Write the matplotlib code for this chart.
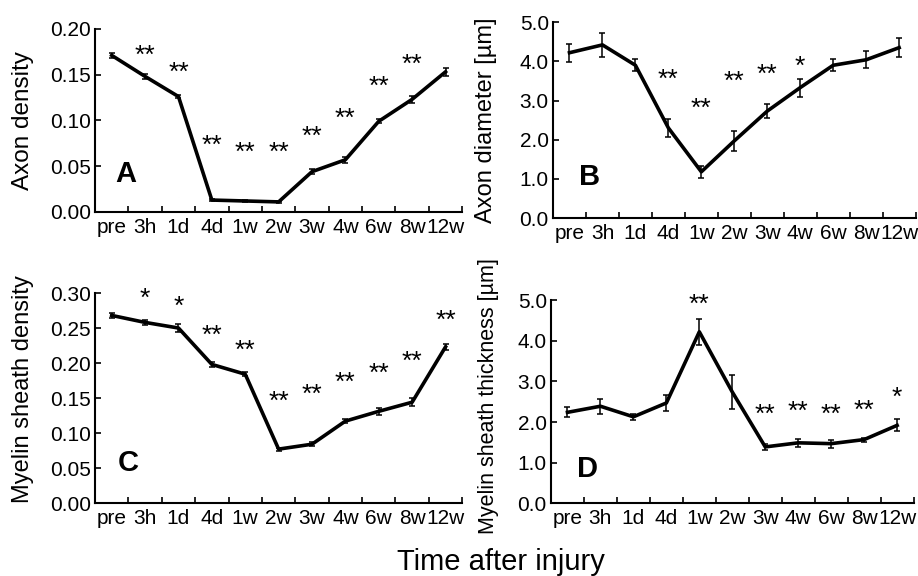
import matplotlib.pyplot as plt
from matplotlib.ticker import FixedLocator, FormatStrFormatter

plt.rcParams['font.family'] = ['Liberation Sans', 'DejaVu Sans']

times = ['pre', '3h', '1d', '4d', '1w', '2w', '3w', '4w', '6w', '8w', '12w']

axon_density = [0.171, 0.148, 0.126, 0.013, 0.012, 0.011, 0.044, 0.057, 0.099, 0.123, 0.153]
axon_density_err = [0.003, 0.003, 0.002, 0.001, 0.001, 0.001, 0.003, 0.003, 0.002, 0.004, 0.004]
axon_density_stars = ['', '**', '**', '**', '**', '**', '**', '**', '**', '**', '']
axon_density_star_y = [0, 0.175, 0.156, 0.077, 0.069, 0.069, 0.087, 0.106, 0.141, 0.165, 0]

axon_diam = [4.22, 4.42, 3.90, 2.30, 1.18, 1.97, 2.73, 3.33, 3.90, 4.04, 4.35]
axon_diam_err = [0.23, 0.31, 0.15, 0.24, 0.15, 0.25, 0.17, 0.23, 0.15, 0.22, 0.25]
axon_diam_stars = ['', '', '', '**', '**', '**', '**', '*', '', '', '']
axon_diam_star_y = [0, 0, 0, 3.62, 2.88, 3.57, 3.75, 3.96, 0, 0, 0]

myelin_density = [0.268, 0.258, 0.250, 0.198, 0.184, 0.077, 0.084, 0.117, 0.131, 0.144, 0.223]
myelin_density_err = [0.004, 0.003, 0.006, 0.004, 0.003, 0.002, 0.003, 0.003, 0.005, 0.006, 0.004]
myelin_density_stars = ['', '*', '*', '**', '**', '**', '**', '**', '**', '**', '**']
myelin_density_star_y = [0, 0.297, 0.286, 0.244, 0.223, 0.151, 0.160, 0.178, 0.191, 0.207, 0.266]

myelin_thick = [2.24, 2.39, 2.13, 2.47, 4.22, 2.74, 1.39, 1.49, 1.47, 1.57, 1.92]
myelin_thick_err = [0.12, 0.18, 0.07, 0.20, 0.32, 0.41, 0.08, 0.10, 0.10, 0.05, 0.15]
myelin_thick_stars = ['', '', '', '', '**', '', '**', '**', '**', '**', '*']
myelin_thick_star_y = [0, 0, 0, 0, 4.98, 0, 2.28, 2.36, 2.29, 2.37, 2.70]

panels = [
    # rect, values, errors, stars, star y, ylim, yticks, fmt, ylabel, label size, label coords, letter, letter pos
    ([0.1035, 0.632, 0.400, 0.318], axon_density, axon_density_err, axon_density_stars,
     axon_density_star_y, 0.20, [0, 0.05, 0.10, 0.15, 0.20], '%.2f', 'Axon density', 17.5,
     (-0.166, 0.5), 'A', (0.92, 0.042)),
    ([0.6024, 0.6215, 0.395, 0.340], axon_diam, axon_diam_err, axon_diam_stars,
     axon_diam_star_y, 5.0, [0, 1, 2, 3, 4, 5], '%.1f', 'Axon diameter [µm]', 17,
     (-0.155, 0.5), 'B', (1.12, 1.05)),
    ([0.1035, 0.1267, 0.400, 0.3646], myelin_density, myelin_density_err, myelin_density_stars,
     myelin_density_star_y, 0.30, [0, 0.05, 0.10, 0.15, 0.20, 0.25, 0.30], '%.2f',
     'Myelin sheath density', 17, (-0.166, 0.545), 'C', (1.0, 0.057)),
    ([0.6002, 0.126, 0.395, 0.353], myelin_thick, myelin_thick_err, myelin_thick_stars,
     myelin_thick_star_y, 5.0, [0, 1, 2, 3, 4, 5], '%.1f', 'Myelin sheath thickness [µm]', 15.5,
     (-0.144, 0.53), 'D', (1.12, 0.84)),
]

fig = plt.figure(figsize=(9.18, 5.76), dpi=100)

x = [i + 0.5 for i in range(len(times))]
star_size = 19

for rect, vals, errs, stars, star_y, ytop, yticks, fmt, ylabel, lab_size, lab_xy, letter, let_xy in panels:
    ax = fig.add_axes(rect)
    ax.errorbar(x, vals, yerr=errs, color='black', lw=2.6, elinewidth=1.1,
                capsize=2.5, capthick=1.1)
    for xi, s, sy in zip(x, stars, star_y):
        if s:
            ax.annotate(s, (xi, sy), xytext=(0, -0.42 * star_size), textcoords='offset points',
                        ha='center', va='baseline', fontsize=star_size)
    ax.set_xlim(0, len(times))
    ax.set_ylim(0, ytop)
    ax.set_xticks(x)
    ax.set_xticklabels(times)
    ax.xaxis.set_minor_locator(FixedLocator(range(1, len(times) + 1)))
    ax.set_yticks(yticks)
    ax.yaxis.set_major_formatter(FormatStrFormatter(fmt))
    ax.tick_params(axis='x', which='major', length=0, labelsize=15, pad=4)
    ax.tick_params(axis='x', which='minor', direction='in', length=4, width=1.2)
    ax.tick_params(axis='y', direction='in', length=4, width=1.2, labelsize=15, pad=3)
    for side in ['top', 'right']:
        ax.spines[side].set_visible(False)
    for side in ['left', 'bottom']:
        ax.spines[side].set_linewidth(1.5)
    ax.set_ylabel(ylabel, fontsize=lab_size)
    ax.yaxis.set_label_coords(*lab_xy)
    ax.text(let_xy[0], let_xy[1], letter, fontsize=21, fontweight='bold',
            ha='center', va='center')

fig.text(501 / 918, 1 - 570 / 576, 'Time after injury', ha='center', va='baseline', fontsize=21)

fig.savefig('out.png', dpi=100)
